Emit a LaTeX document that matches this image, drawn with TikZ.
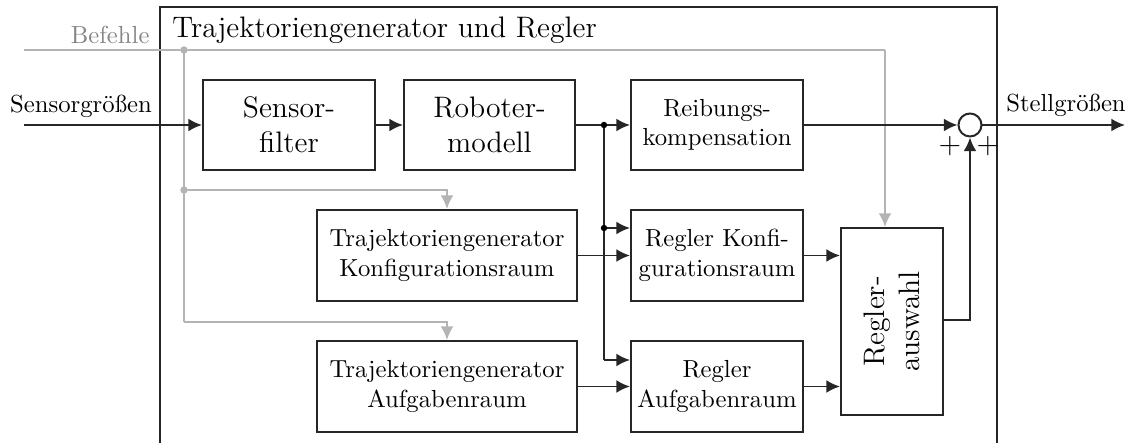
\documentclass[tikz,border=0pt]{standalone}
\usetikzlibrary{arrows.meta}
\def\u{0.405pt}
\definecolor{lgray}{HTML}{B4B4B4}
\definecolor{tgray}{HTML}{858585}
\tikzset{
  blk/.style={draw=black!85, line width=0.8pt, align=center, inner sep=0pt},
  arr/.style={line width=0.8pt, draw=black!85, -{Latex[length=5.5pt,width=5.2pt]}},
  ln/.style={line width=0.8pt, draw=black!85},
  garr/.style={line width=0.8pt, draw=lgray, -{Latex[length=5.5pt,width=5.2pt]}},
  gln/.style={line width=0.8pt, draw=lgray},
  bdot/.style={circle, fill=black, inner sep=0pt, minimum size=2.6pt},
  gdot/.style={circle, fill=lgray, inner sep=0pt, minimum size=3pt},
}
\begin{document}
\begin{tikzpicture}[x=0.405pt,y=-0.405pt]
\useasboundingbox (0,0) rectangle (1129,443);
% frame
\draw[ln] (160,470) -- (160,7) -- (997,7) -- (997,470);
\node[anchor=base west, font=\large, inner sep=0pt] (title) at (172,38) {Trajektoriengenerator und Regler};

% blocks
\node[blk, font=\large, minimum width=172*\u, minimum height=90*\u] (sf) at (289,125) {Sensor-\\filter};
\node[blk, font=\large, minimum width=171*\u, minimum height=90*\u] (rm) at (489.5,125) {Roboter-\\modell};
\node[blk, minimum width=172*\u, minimum height=90*\u] (rk) at (717,125) {Reibungs-\\kompensation};
\node[blk, minimum width=260*\u, minimum height=91*\u] (tk) at (447,255.5) {Trajektoriengenerator\\Konfigurationsraum};
\node[blk, minimum width=260*\u, minimum height=91*\u] (ta) at (447,386.5) {Trajektoriengenerator\\Aufgabenraum};
\node[blk, minimum width=172*\u, minimum height=91*\u] (rkf) at (717,255.5) {Regler Konfi-\\gurationsraum};
\node[blk, minimum width=172*\u, minimum height=91*\u] (ra) at (717,386.5) {Regler\\Aufgabenraum};
\node[blk, minimum width=102*\u, minimum height=187*\u] (aw) at (892,321.5) {};
\node[font=\large, rotate=90, align=center, inner sep=0pt] (awt) at (aw.center) {Regler-\\auswahl};
\node[draw=black!85, line width=0.8pt, circle, minimum size=23*\u, inner sep=0pt] (sum) at (970,125) {};
\node[inner sep=0pt, font=\large] (p1) at (950,146) {$+$};
\node[inner sep=0pt, font=\large] (p2) at (988,146) {$+$};

% Befehle (gray)
\coordinate (bs) at (24,50);
\coordinate (bx) at (885,50);
\coordinate (gv) at (184,50);
\coordinate (g1) at (184,190);
\coordinate (g2) at (184,322);
\node[anchor=base east, text=tgray, inner sep=0pt] (bef) at (150,44) {Befehle};
\draw[gln] (bs) -- (bx);
\draw[garr] (bx) -- (bx |- aw.north);
\draw[gln] (gv) -- (g2);
\draw[garr] (g1) -| (tk.north);
\draw[garr] (g2) -| (ta.north);
\node[gdot] (gd1) at (gv) {};
\node[gdot] (gd2) at (g1) {};

% Sensor input
\coordinate (sin) at (24,125);
\node[anchor=base, inner sep=0pt] (sens) at (81,113) {Sensorgrößen};
\draw[arr] (sin) -- (sf.west);
\draw[arr] (sf.east) -- (rm.west);

% Robotermodell distribution
\coordinate (d1) at (604,125);
\coordinate (d2) at (604,228);
\coordinate (d3) at (604,360);
\draw[ln] (rm.east) -- (d1);
\draw[arr] (d1) -- (rk.west);
\draw[ln] (d1) -- (d3);
\draw[arr] (d2) -- (d2 -| rkf.west);
\draw[arr] (d3) -- (d3 -| ra.west);
\node[bdot] (bd1) at (d1) {};
\node[bdot] (bd2) at (d2) {};

% generators to controllers
\draw[arr] (tk.east) -- (tk.east -| rkf.west);
\draw[arr] (ta.east) -- (ta.east -| ra.west);
\draw[arr] (rkf.east) -- (rkf.east -| aw.west);
\draw[arr] (ra.east) -- (ra.east -| aw.west);

% summation
\coordinate (ao) at (943,320);
\draw[arr] (rk.east) -- (sum.west);
\draw[arr] (ao) -| (sum.south);
\coordinate (sout) at (1125,125);
\draw[arr] (sum.east) -- (sout);
\node[anchor=base, inner sep=0pt] (stell) at (1066,112) {Stellgrößen};
\end{tikzpicture}
\end{document}
